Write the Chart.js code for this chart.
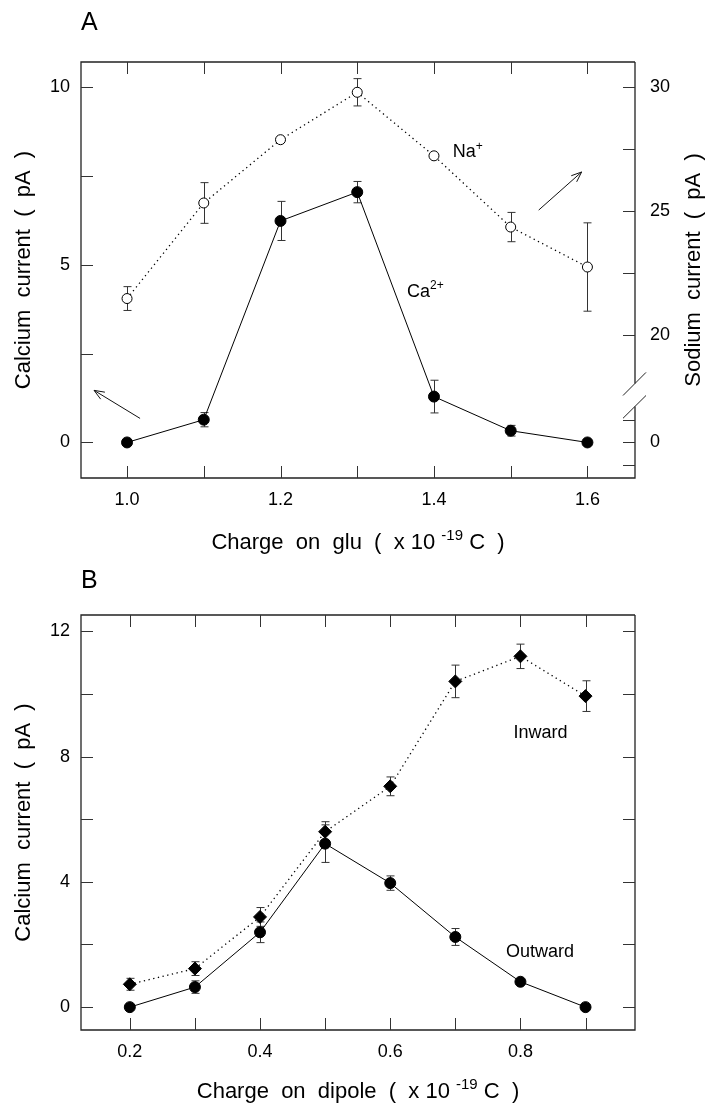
<!DOCTYPE html>
<html>
<head>
<meta charset="utf-8">
<script src="https://cdn.jsdelivr.net/npm/chart.js@4.4.0/dist/chart.umd.min.js"></script>
<style>
  body { margin: 0; background: #fff; width: 706px; height: 1108px; overflow: hidden; }
  .panel { position: absolute; left: 0; }
  #wrapA { top: 0; }
  #wrapB { top: 560px; }
</style>
</head>
<body>
<div class="panel" id="wrapA"><canvas id="chartA" width="706" height="560"></canvas></div>
<div class="panel" id="wrapB"><canvas id="chartB" width="706" height="548"></canvas></div>
<script>
const FONT = "'Liberation Sans', Arial, Helvetica, sans-serif";

// ---- panel A data ----
const gluCharge = [1.0, 1.1, 1.2, 1.3, 1.4, 1.5, 1.6];
const caCurrent = [0, 0.64, 6.23, 7.04, 1.29, 0.33, 0];
const caErr = [0, 0.2, 0.55, 0.3, 0.46, 0.15, 0];
const naCurrent = [21.47, 25.32, 27.87, 29.78, 27.22, 24.35, 22.74];
const naErr = [0.48, 0.82, 0, 0.55, 0, 0.59, 1.78];
const gluLabelTicks = [1.0, 1.2, 1.4, 1.6];
const caTicks = [0, 5, 10];
const caMinorTicks = [2.5, 7.5];
const naTicks = [20, 25, 30];
const naMinorTicks = [22.5, 27.5];

// ---- panel B data ----
const dipoleCharge = [0.2, 0.3, 0.4, 0.5, 0.6, 0.7, 0.8, 0.9];
const inwardCurrent = [0.73, 1.23, 2.88, 5.6, 7.05, 10.4, 11.2, 9.93];
const inwardErr = [0.19, 0.22, 0.3, 0.32, 0.3, 0.52, 0.39, 0.49];
const outwardCurrent = [0, 0.64, 2.39, 5.22, 3.96, 2.24, 0.81, 0];
const outwardErr = [0, 0.2, 0.33, 0.6, 0.23, 0.27, 0, 0];
const dipoleLabelTicks = [0.2, 0.4, 0.6, 0.8];
const dipoleTicks = [0, 4, 8, 12];
const dipoleMinorTicks = [2, 6, 10];

// axis ranges
const caMin = -1.0, caMax = 10.7;
const naMin = 14.24, naMax = 31.0;
// where the sodium "0" sits below the axis break (same height as calcium 0)
const naZero = naMin + (0 - caMin) * (naMax - naMin) / (caMax - caMin);

Chart.defaults.font.family = FONT;
Chart.defaults.color = '#000';

function drawRich(ctx, parts, x, y, align, size) {
  const supSize = Math.round(size * 0.68);
  let w = 0;
  parts.forEach(p => {
    ctx.font = (p.sup ? supSize : size) + 'px ' + FONT;
    p.w = ctx.measureText(p.t).width;
    w += p.w;
  });
  let cx = align === 'center' ? x - w / 2 : x;
  ctx.textAlign = 'left';
  ctx.textBaseline = 'alphabetic';
  parts.forEach(p => {
    ctx.font = (p.sup ? supSize : size) + 'px ' + FONT;
    ctx.fillText(p.t, cx, p.sup ? y - size * 0.4 : y);
    cx += p.w;
  });
}

function drawArrow(ctx, x1, y1, x2, y2) {
  const ang = Math.atan2(y2 - y1, x2 - x1);
  const h = 11, spread = 0.38;
  ctx.beginPath();
  ctx.moveTo(x1, y1);
  ctx.lineTo(x2, y2);
  ctx.moveTo(x2 - h * Math.cos(ang - spread), y2 - h * Math.sin(ang - spread));
  ctx.lineTo(x2, y2);
  ctx.lineTo(x2 - h * Math.cos(ang + spread), y2 - h * Math.sin(ang + spread));
  ctx.stroke();
}

const figurePlugin = {
  id: 'figure',
  beforeDatasetsDraw(chart) {
    const ctx = chart.ctx;
    ctx.save();
    ctx.strokeStyle = '#333';
    ctx.lineWidth = 1;
    chart.data.datasets.forEach(ds => {
      if (!ds.errors) return;
      const xs = chart.scales.x, ys = chart.scales[ds.yAxisID || 'y'];
      ds.data.forEach((pt, j) => {
        const e = ds.errors[j];
        if (!e) return;
        const px = Math.round(xs.getPixelForValue(pt.x)) + 0.5;
        const top = ys.getPixelForValue(pt.y + e), bot = ys.getPixelForValue(pt.y - e);
        ctx.beginPath();
        ctx.moveTo(px, top); ctx.lineTo(px, bot);
        ctx.moveTo(px - 4, top); ctx.lineTo(px + 4, top);
        ctx.moveTo(px - 4, bot); ctx.lineTo(px + 4, bot);
        ctx.stroke();
      });
    });
    ctx.restore();
  },
  afterDraw(chart, args, opts) {
    const { ctx, chartArea: a, scales } = chart;
    const TL = 12;
    ctx.save();
    // frame
    ctx.strokeStyle = '#222';
    ctx.lineWidth = 1.3;
    ctx.beginPath();
    ctx.moveTo(a.right, a.top);
    ctx.lineTo(a.left, a.top);
    ctx.lineTo(a.left, a.bottom);
    ctx.lineTo(a.right, a.bottom);
    if (opts.rightGap) {
      ctx.lineTo(a.right, scales.y.getPixelForValue(opts.rightGap[0]));
      ctx.moveTo(a.right, scales.y.getPixelForValue(opts.rightGap[1]));
    }
    ctx.lineTo(a.right, a.top);
    ctx.stroke();

    // inward tick marks
    ctx.strokeStyle = '#333';
    ctx.lineWidth = 1;
    ctx.beginPath();
    opts.xMarks.forEach(v => {
      const px = Math.round(scales.x.getPixelForValue(v)) + 0.5;
      ctx.moveTo(px, a.top); ctx.lineTo(px, a.top + TL);
      ctx.moveTo(px, a.bottom); ctx.lineTo(px, a.bottom - TL);
    });
    opts.leftMarks.forEach(v => {
      const py = Math.round(scales.y.getPixelForValue(v)) + 0.5;
      ctx.moveTo(a.left, py); ctx.lineTo(a.left + TL, py);
    });
    const rs = scales[opts.rightScale];
    opts.rightMarks.forEach(v => {
      const py = Math.round(rs.getPixelForValue(v)) + 0.5;
      ctx.moveTo(a.right, py); ctx.lineTo(a.right - TL, py);
    });
    (opts.rightLowMarks || []).forEach(v => {
      const py = Math.round(scales.y.getPixelForValue(v)) + 0.5;
      ctx.moveTo(a.right, py); ctx.lineTo(a.right - TL, py);
    });
    ctx.stroke();

    // axis break slashes
    ctx.strokeStyle = '#222';
    (opts.breaks || []).forEach(b => {
      ctx.beginPath();
      ctx.moveTo(a.right - 12, scales.y.getPixelForValue(b[0]));
      ctx.lineTo(a.right + 11, scales.y.getPixelForValue(b[1]));
      ctx.stroke();
    });

    // arrows
    ctx.strokeStyle = '#111';
    ctx.lineWidth = 1;
    (opts.arrows || []).forEach(r => {
      drawArrow(ctx, scales.x.getPixelForValue(r[0]), scales.y.getPixelForValue(r[1]),
        scales.x.getPixelForValue(r[2]), scales.y.getPixelForValue(r[3]));
    });

    // in-plot labels
    ctx.fillStyle = '#000';
    (opts.labels || []).forEach(l => {
      drawRich(ctx, l.parts, scales.x.getPixelForValue(l.x), scales.y.getPixelForValue(l.y), l.align, 18);
    });

    // right-hand axis title, reading bottom to top like the left one
    if (opts.rightTitle) {
      ctx.save();
      ctx.translate(opts.rightTitleX, (a.top + a.bottom) / 2);
      ctx.rotate(-Math.PI / 2);
      ctx.font = '22px ' + FONT;
      ctx.textAlign = 'center';
      ctx.textBaseline = 'middle';
      ctx.fillText(opts.rightTitle, 0, 0);
      ctx.restore();
    }

    // panel letter and x title
    ctx.font = '25px ' + FONT;
    ctx.textAlign = 'left';
    ctx.textBaseline = 'alphabetic';
    ctx.fillText(opts.letter, a.left, opts.letterY);
    drawRich(ctx, opts.xTitle, (a.left + a.right) / 2, opts.xTitleY, 'center', 22);
    ctx.restore();
  }
};

function tickAxis(values) {
  return s => { s.ticks = values.map(v => ({ value: v })); };
}

const hiddenGrid = { display: false, drawTicks: false };
const tickFont = { size: 18 };

// ---------- panel A ----------
new Chart(document.getElementById('chartA'), {
  type: 'line',
  data: {
    datasets: [
      {
        label: 'Na+',
        data: gluCharge.map((x, i) => ({ x, y: naCurrent[i] })),
        errors: naErr,
        yAxisID: 'y2',
        borderColor: '#000',
        borderWidth: 1.3,
        borderDash: [1.3, 3.5],
        pointRadius: 5,
        pointBackgroundColor: '#fff',
        pointBorderColor: '#000',
        pointBorderWidth: 1
      },
      {
        label: 'Ca2+',
        data: gluCharge.map((x, i) => ({ x, y: caCurrent[i] })),
        errors: caErr,
        yAxisID: 'y',
        borderColor: '#000',
        borderWidth: 1,
        pointRadius: 5.5,
        pointBackgroundColor: '#000',
        pointBorderColor: '#000',
        pointBorderWidth: 1
      }
    ]
  },
  options: {
    responsive: false,
    animation: false,
    devicePixelRatio: 1,
    events: [],
    layout: { padding: { top: 62, left: 0, right: 0, bottom: 0 } },
    plugins: {
      legend: { display: false },
      tooltip: { enabled: false },
      figure: {
        letter: 'A',
        letterY: 30,
        xTitle: [{ t: 'Charge  on  glu  (  x 10 ' }, { t: '-19', sup: true }, { t: ' C  )' }],
        xTitleY: 549,
        rightTitle: 'Sodium  current  (  pA  )',
        rightTitleX: 694,
        xMarks: gluCharge,
        leftMarks: caTicks.concat(caMinorTicks),
        rightScale: 'y2',
        rightMarks: naTicks.concat(naMinorTicks),
        rightLowMarks: [-0.63, 0, 0.63],
        rightGap: [1.01, 1.66],
        breaks: [[1.32, 1.97], [0.68, 1.32]],
        arrows: [[1.5365, 6.535, 1.5924, 7.606], [1.017, 0.676, 0.957, 1.465]],
        labels: [
          { x: 1.4245, y: 8.03, align: 'left', parts: [{ t: 'Na' }, { t: '+', sup: true }] },
          { x: 1.365, y: 4.1, align: 'left', parts: [{ t: 'Ca' }, { t: '2+', sup: true }] }
        ]
      }
    },
    scales: {
      x: {
        type: 'linear', min: 0.94, max: 1.662,
        grid: hiddenGrid, border: { display: false },
        afterBuildTicks: tickAxis(gluLabelTicks),
        afterFit: s => { s.height = 82; },
        ticks: { callback: v => v.toFixed(1), padding: 11, font: tickFont, maxRotation: 0, autoSkip: false }
      },
      y: {
        position: 'left', min: caMin, max: caMax,
        grid: hiddenGrid, border: { display: false },
        afterBuildTicks: tickAxis(caTicks),
        afterFit: s => { s.width = 81; },
        ticks: { padding: 11, font: tickFont },
        title: { display: true, text: 'Calcium  current  (  pA  )', font: { size: 22 }, padding: { top: 11, bottom: 0 } }
      },
      y2: {
        position: 'right', min: naMin, max: naMax,
        grid: hiddenGrid, border: { display: false },
        afterBuildTicks: tickAxis([naZero].concat(naTicks)),
        afterFit: s => { s.width = 71; },
        ticks: { padding: 15, font: tickFont, callback: v => (v < 19 ? '0' : String(v)) }
      }
    }
  },
  plugins: [figurePlugin]
});

// ---------- panel B ----------
new Chart(document.getElementById('chartB'), {
  type: 'line',
  data: {
    datasets: [
      {
        label: 'Inward',
        data: dipoleCharge.map((x, i) => ({ x, y: inwardCurrent[i] })),
        errors: inwardErr,
        borderColor: '#000',
        borderWidth: 1.3,
        borderDash: [1.3, 3.5],
        pointStyle: 'rectRot',
        pointRadius: 6.5,
        pointBackgroundColor: '#000',
        pointBorderColor: '#000',
        pointBorderWidth: 1
      },
      {
        label: 'Outward',
        data: dipoleCharge.map((x, i) => ({ x, y: outwardCurrent[i] })),
        errors: outwardErr,
        borderColor: '#000',
        borderWidth: 1,
        pointRadius: 5.5,
        pointBackgroundColor: '#000',
        pointBorderColor: '#000',
        pointBorderWidth: 1
      }
    ]
  },
  options: {
    responsive: false,
    animation: false,
    devicePixelRatio: 1,
    events: [],
    layout: { padding: { top: 55, left: 0, right: 71, bottom: 0 } },
    plugins: {
      legend: { display: false },
      tooltip: { enabled: false },
      figure: {
        letter: 'B',
        letterY: 28,
        xTitle: [{ t: 'Charge  on  dipole  (  x 10 ' }, { t: '-19', sup: true }, { t: ' C  )' }],
        xTitleY: 538,
        xMarks: dipoleCharge,
        leftMarks: dipoleTicks.concat(dipoleMinorTicks),
        rightScale: 'y',
        rightMarks: dipoleTicks.concat(dipoleMinorTicks),
        labels: [
          { x: 0.831, y: 8.59, align: 'center', parts: [{ t: 'Inward' }] },
          { x: 0.83, y: 1.6, align: 'center', parts: [{ t: 'Outward' }] }
        ]
      }
    },
    scales: {
      x: {
        type: 'linear', min: 0.125, max: 0.976,
        grid: hiddenGrid, border: { display: false },
        afterBuildTicks: tickAxis(dipoleLabelTicks),
        afterFit: s => { s.height = 78; },
        ticks: { callback: v => v.toFixed(1), padding: 11, font: tickFont, maxRotation: 0, autoSkip: false }
      },
      y: {
        position: 'left', min: -0.73, max: 12.52,
        grid: hiddenGrid, border: { display: false },
        afterBuildTicks: tickAxis(dipoleTicks),
        afterFit: s => { s.width = 81; },
        ticks: { padding: 11, font: tickFont },
        title: { display: true, text: 'Calcium  current  (  pA  )', font: { size: 22 }, padding: { top: 11, bottom: 0 } }
      }
    }
  },
  plugins: [figurePlugin]
});
</script>
</body>
</html>
